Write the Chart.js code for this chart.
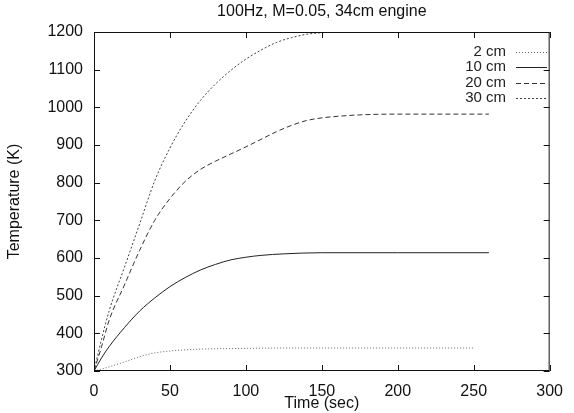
<!DOCTYPE html>
<html>
<head>
<meta charset="utf-8">
<script src="https://cdn.jsdelivr.net/npm/chart.js@4/dist/chart.umd.min.js"></script>
<style>
  html, body { margin: 0; padding: 0; background: #fff; }
  #wrap { width: 574px; height: 413px; }
</style>
</head>
<body>
<div id="wrap"><canvas id="c" width="574" height="413"></canvas></div>
<script>
const chartTitle = "100Hz, M=0.05, 34cm engine";
const xTitle = "Time (sec)";
const yTitle = "Temperature (K)";
const seriesLabels = ["2 cm", "10 cm", "20 cm", "30 cm"];

const time2cm = [0, 5, 10, 20, 30, 40, 50, 60, 70, 80, 100, 125, 150, 200, 250];
const temp2cm = [300, 305, 311, 324, 338, 348, 353, 356, 358, 359, 360, 361, 361, 361, 361];

const time10cm = [0, 5, 10, 20, 30, 40, 50, 60, 70, 80, 90, 100, 110, 125, 150, 200, 260];
const temp10cm = [300, 335, 365, 415, 459, 494, 524, 548, 568, 583, 595, 602, 607, 611, 614, 614, 614];

const time20cm = [0, 5, 10, 20, 30, 40, 50, 60, 70, 80, 90, 100, 110, 120, 130, 140, 150, 160, 175, 200, 260];
const temp20cm = [300, 365, 435, 528, 620, 700, 758, 803, 835, 857, 876, 895, 915, 935, 952, 965, 972, 976, 980, 982, 982];

const time30cm = [0, 5, 10, 20, 30, 40, 50, 60, 70, 80, 90, 100, 110, 120, 130, 140, 150, 175, 200, 260];
const temp30cm = [300, 385, 460, 575, 690, 805, 892, 962, 1018, 1062, 1098, 1128, 1152, 1172, 1185, 1194, 1198, 1200, 1200, 1200];

const xTicks = [0, 50, 100, 150, 200, 250, 300];
const yTicks = [300, 400, 500, 600, 700, 800, 900, 1000, 1100, 1200];

const styles = [
  { color: '#666', dash: [1, 2] },
  { color: '#222', dash: [] },
  { color: '#333', dash: [5, 3] },
  { color: '#444', dash: [2, 2] }
];

const allTimes = [time2cm, time10cm, time20cm, time30cm];
const allTemps = [temp2cm, temp10cm, temp20cm, temp30cm];

const datasets = seriesLabels.map((lab, i) => ({
  label: lab,
  data: allTimes[i].map((t, j) => ({ x: t, y: allTemps[i][j] })),
  borderColor: styles[i].color,
  borderDash: styles[i].dash,
  borderWidth: 1,
  pointRadius: 0,
  fill: false,
  cubicInterpolationMode: 'monotone'
}));

const FONT = "'Liberation Sans', Arial, Helvetica, sans-serif";

const framePlugin = {
  id: 'frame',
  afterDraw(chart) {
    const ctx = chart.ctx;
    const a = chart.chartArea;
    const xs = chart.scales.x, ys = chart.scales.y;
    ctx.save();
    ctx.strokeStyle = '#111';
    ctx.lineWidth = 1;
    ctx.setLineDash([]);
    ctx.strokeRect(a.left + 0.5, a.top + 0.5, a.right - a.left - 1, a.bottom - a.top - 1);
    const L = 6;
    ctx.beginPath();
    xTicks.forEach(v => {
      const px = Math.round(xs.getPixelForValue(v)) + 0.5;
      ctx.moveTo(px, a.bottom); ctx.lineTo(px, a.bottom - L);
      ctx.moveTo(px, a.top); ctx.lineTo(px, a.top + L);
    });
    yTicks.forEach(v => {
      const py = Math.round(ys.getPixelForValue(v)) + 0.5;
      ctx.moveTo(a.left, py); ctx.lineTo(a.left + L, py);
      ctx.moveTo(a.right, py); ctx.lineTo(a.right - L, py);
    });
    ctx.stroke();

    // legend inside plot, top right
    ctx.font = '15px ' + FONT;
    ctx.textAlign = 'right';
    ctx.textBaseline = 'middle';
    chart.data.datasets.forEach((ds, i) => {
      const y = 51.5 + i * 15.5;
      ctx.fillStyle = '#222';
      ctx.fillText(ds.label, 506, y);
      ctx.strokeStyle = ds.borderColor;
      ctx.setLineDash(ds.borderDash || []);
      ctx.beginPath();
      ctx.moveTo(516, Math.round(y) + 0.5);
      ctx.lineTo(547, Math.round(y) + 0.5);
      ctx.stroke();
    });
    ctx.restore();
  }
};

new Chart(document.getElementById('c'), {
  type: 'line',
  data: { datasets },
  options: {
    responsive: false,
    animation: false,
    layout: { padding: { left: 0, right: 13, top: 0, bottom: 0 } },
    plugins: {
      legend: { display: false },
      tooltip: { enabled: false },
      title: {
        display: true,
        text: chartTitle,
        fullSize: false,
        color: '#111',
        font: { family: FONT, size: 16, weight: 'normal' },
        padding: { top: 1.5, bottom: 11.3 }
      }
    },
    scales: {
      x: {
        type: 'linear',
        min: 0, max: 300,
        afterBuildTicks: s => { s.ticks = xTicks.map(v => ({ value: v })); },
        afterFit: s => { s.height = 42; },
        grid: { display: false, drawTicks: false },
        border: { display: false },
        ticks: { color: '#111', font: { family: FONT, size: 16 }, padding: 11, maxRotation: 0, callback: v => String(v) },
        title: { display: true, text: xTitle, color: '#111', font: { family: FONT, size: 16 }, padding: { top: 0, bottom: 0 } }
      },
      y: {
        type: 'linear',
        min: 300, max: 1200,
        afterBuildTicks: s => { s.ticks = yTicks.map(v => ({ value: v })); },
        afterFit: s => { s.width = 94; },
        grid: { display: false, drawTicks: false },
        border: { display: false },
        ticks: { color: '#111', font: { family: FONT, size: 16 }, padding: 11, callback: v => String(v) },
        title: { display: true, text: yTitle, color: '#111', font: { family: FONT, size: 16 }, padding: { top: 5, bottom: 0 } }
      }
    }
  },
  plugins: [framePlugin]
});
</script>
</body>
</html>
